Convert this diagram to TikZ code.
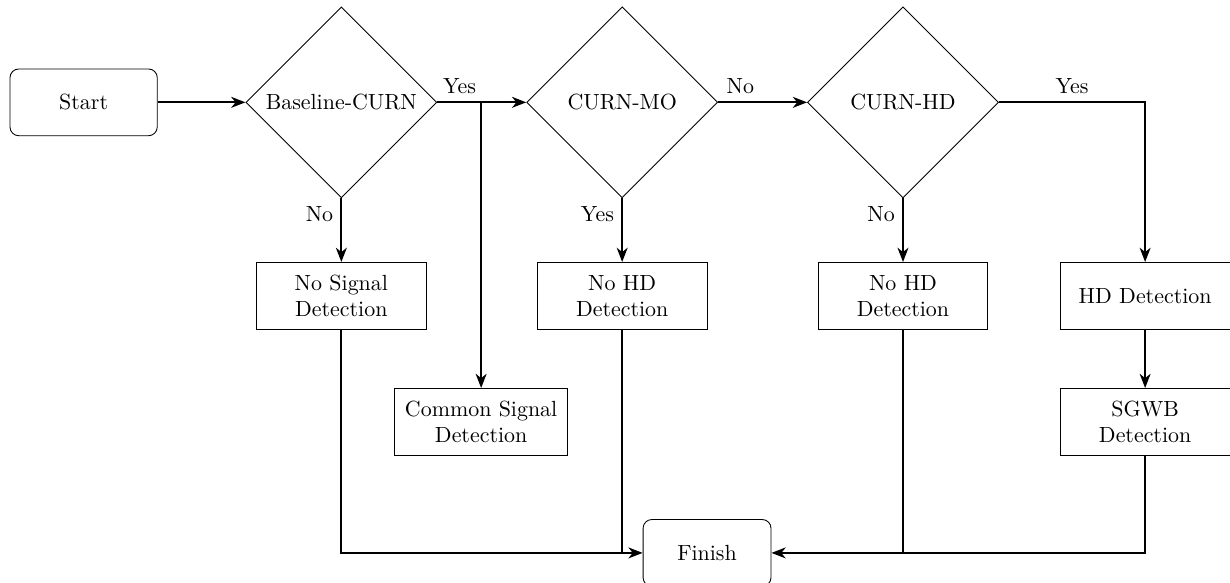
\documentclass[tikz,border=0pt]{standalone}
\usepackage{tikz}
\usetikzlibrary{arrows,arrows.meta,shapes.geometric,positioning}

\begin{document}
\begin{tikzpicture}[
        > = {Stealth[length=6.5pt, width=5pt, inset=2pt]}, % arrow head style
        on grid, % distances are between centres
        auto,
        thick % line style
    ]

    \tikzstyle{decision}=[
        diamond,
        draw = black,
        thin,
        inner sep = 2pt,
        minimum width = 3.06cm,
        minimum height = 3.06cm
    ]
    \tikzstyle{outcome}=[
        rectangle,
        draw = black,
        thin,
        align = center,
        minimum width = 2.72cm,
        minimum height = 1.07cm
    ]
    \tikzstyle{terminal}=[
        rectangle,
        rounded corners,
        draw = black,
        thin,
        minimum height = 1.07cm
    ]

    \useasboundingbox (0,0) rectangle (19.71,-9.33);

    \node[terminal, minimum width = 2.36cm] (start) at (1.34,-1.64) {Start};
    \node[decision] (b1) [right=4.13cm of start] {Baseline-CURN};
    \node[decision] (b2) [right=4.5cm of b1] {CURN-MO};
    \node[decision] (b3) [right=4.5cm of b2] {CURN-HD};
    \node[outcome] (nosig) [below=3.1cm of b1] {No Signal\\Detection};
    \node[outcome] (nohd1) [below=3.1cm of b2] {No HD\\Detection};
    \node[outcome] (nohd2) [below=3.1cm of b3] {No HD\\Detection};
    \node[outcome] (hddet) [right=3.88cm of nohd2] {HD Detection};
    \node[outcome] (sgwb) [below=2.02cm of hddet] {SGWB\\Detection};
    \node[outcome, minimum width = 2.77cm] (common) [below right=2.02cm and 2.24cm of nosig] {Common Signal\\Detection};
    \node[terminal, minimum width = 2.05cm] (finish) [below right=4.12cm and 1.36cm of nohd1] {Finish};

    \path[->] (start) edge (b1);
    \path[->] (b1) edge node[near start] {Yes} (b2);
    \path[->] (b2) edge node[near start] {No} (b3);
    \draw[->] (b3) -| node[near start] {Yes} (hddet);
    \draw[->] (b1.east -| common) -- (common);
    \path[->] (b1) edge node[left, near start] {No} (nosig);
    \path[->] (b2) edge node[left, near start] {Yes} (nohd1);
    \path[->] (b3) edge node[left, near start] {No} (nohd2);
    \path[->] (hddet) edge (sgwb);
    \draw[->] (nosig) |- (finish);
    \draw (nohd1) -- (nohd1 |- finish);
    \draw (nohd2) -- (nohd2 |- finish);
    \draw[->] (sgwb) |- (finish);
\end{tikzpicture}
\end{document}
